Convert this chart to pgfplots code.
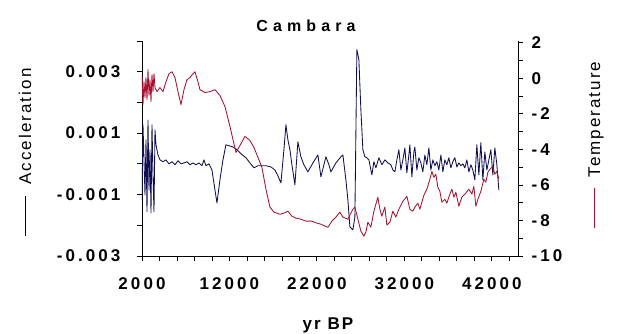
\documentclass[border=0pt]{standalone}
\usepackage{fontspec}
\setmainfont{Liberation Sans}
\newfontfamily\tickfont[LetterSpace=18]{Liberation Sans}
\newfontfamily\labelfont[LetterSpace=12]{Liberation Sans}
\newfontfamily\titlefont[LetterSpace=32]{Liberation Sans}
\usepackage{pgfplots}
\pgfplotsset{compat=1.18}
\definecolor{accblue}{rgb}{0.06,0.06,0.32}
\definecolor{tempred}{rgb}{0.66,0.07,0.18}

\pgfplotsset{
  commonaxis/.style={
    scale only axis, width=376pt, height=215pt,
    xmin=2000, xmax=45000,
    tick align=outside, major tick length=5pt, minor tick length=5pt,
    every tick/.style={black, line width=0.8pt},
    axis line style={line width=0.9pt, -},
    /pgf/number format/assume math mode=true,
    /pgf/number format/1000 sep={},
    scaled x ticks=false, scaled y ticks=false,
    ticklabel style={font=\tickfont\bfseries\fontsize{17}{17}\selectfont},
  }
}

\begin{document}
\begin{tikzpicture}[x=1pt,y=1pt]
% page frame; the axis box has its lower left corner at the origin
\useasboundingbox (-142,-78) rectangle (477,256);

\begin{axis}[commonaxis,
  ymin=-0.003, ymax=0.004,
  axis x line*=bottom, axis y line*=left,
  xtick={2000,12000,...,42000}, minor xtick={4000,6000,...,44000},
  ytick={-0.003,-0.001,0.001,0.003}, minor ytick={-0.002,0,0.002,0.004},
  xticklabel style={yshift=-13pt},
  yticklabel style={xshift=-13pt, /pgf/number format/fixed, /pgf/number format/precision=3,
    /pgf/number format/fixed zerofill},
]
\addplot[accblue, line width=0.85pt, line join=round] coordinates {
(2000,-1.17e-3) (2114,1.27e-3) (2343,-1.01e-3) (2457,0.78e-3) (2572,-1.56e-3)
(2686,1.43e-3) (2800,-0.85e-3) (2914,0.46e-3) (3029,-1.60e-3) (3143,1.27e-3)
(3257,-0.36e-3) (3372,-1.56e-3) (3486,1.11e-3) (3600,0.62e-3) (3829,0.29e-3)
(4057,0.13e-3) (4400,0.07e-3) (4743,0.13e-3) (5086,0.00e-3) (5429,0.07e-3)
(5772,-0.03e-3) (6115,0.10e-3) (6458,0.00e-3) (6801,0.03e-3) (7144,0.07e-3)
(7486,-0.03e-3) (7829,0.03e-3) (8172,-0.03e-3) (8515,0.03e-3) (8858,-0.06e-3)
(9087,0.13e-3) (9315,-0.06e-3) (9658,0.00e-3) (10001,-0.20e-3) (10344,-0.85e-3)
(10573,-1.27e-3) (10915,-0.52e-3) (11258,0.13e-3) (11601,0.62e-3) (11944,0.59e-3)
(12401,0.55e-3) (12859,0.46e-3) (13316,0.33e-3) (13888,0.20e-3) (14344,0.03e-3)
(14802,-0.13e-3) (15259,-0.06e-3) (15716,-0.06e-3) (16173,-0.06e-3) (16745,-0.10e-3)
(17202,-0.20e-3) (17545,-0.39e-3) (17888,-0.62e-3) (18231,0.46e-3) (18460,1.27e-3)
(18688,0.78e-3) (18917,0.46e-3) (19145,-0.03e-3) (19488,-0.68e-3) (19831,0.72e-3)
(20174,0.23e-3) (20517,-0.03e-3) (20974,-0.26e-3) (21545,0.03e-3) (22117,0.29e-3)
(22460,-0.42e-3) (22803,-0.03e-3) (23032,0.23e-3) (23375,-0.03e-3) (23603,-0.26e-3)
(24175,0.03e-3) (24746,0.23e-3) (24975,0.29e-3) (25318,-0.52e-3) (25546,-1.17e-3)
(25775,-2.05e-3) (26118,-2.15e-3) (26347,-1.73e-3) (26575,3.72e-3) (26804,3.39e-3)
(27032,1.76e-3) (27261,0.46e-3) (27490,0.23e-3) (27718,0.20e-3) (27947,0.13e-3)
(28290,-0.36e-3) (28519,0.07e-3) (28748,-0.13e-3) (29091,0.20e-3) (29434,-0.03e-3)
(29777,0.13e-3) (30120,0.03e-3) (30463,-0.03e-3) (30691,-0.20e-3) (30920,-0.26e-3)
(31149,0.13e-3) (31377,0.46e-3) (31606,-0.20e-3) (31835,0.13e-3) (32063,0.52e-3)
(32292,-0.29e-3) (32520,0.29e-3) (32635,0.62e-3) (32863,-0.42e-3) (33092,0.39e-3)
(33206,0.55e-3) (33435,-0.20e-3) (33664,0.20e-3) (33892,0.03e-3) (34121,-0.26e-3)
(34350,0.29e-3) (34579,-0.03e-3) (34807,0.52e-3) (35036,-0.20e-3) (35264,0.13e-3)
(35493,-0.06e-3) (35722,0.07e-3) (35950,-0.20e-3) (36179,0.29e-3) (36408,-0.26e-3)
(36637,0.13e-3) (36866,-0.03e-3) (37094,0.20e-3) (37323,-0.13e-3) (37552,0.07e-3)
(37780,0.20e-3) (38009,-0.10e-3) (38238,0.03e-3) (38466,-0.06e-3) (38695,0.00e-3)
(38924,-0.13e-3) (39153,0.13e-3) (39381,-0.26e-3) (39610,-0.03e-3) (39839,-0.20e-3)
(40067,-0.52e-3) (40296,0.62e-3) (40525,-0.36e-3) (40753,0.69e-3) (40982,-0.52e-3)
(41211,0.39e-3) (41440,-0.20e-3) (41668,0.13e-3) (41897,0.46e-3) (42126,-0.36e-3)
(42355,0.52e-3) (42583,-0.03e-3) (42812,-0.85e-3)
};
\end{axis}

\begin{axis}[commonaxis,
  ymin=-10, ymax=2.1,
  axis x line=none, axis y line*=right,
  ytick={-10,-8,...,2}, minor ytick={-9,-7,...,1},
  yticklabel style={xshift=5pt},
]
\addplot[tempred, line width=0.85pt, line join=round] coordinates {
(2000,0.21) (2114,-1.48) (2229,-0.19) (2343,-1.08) (2457,0.04) (2572,-1.20)
(2686,0.49) (2800,-0.97) (2914,-0.08) (3029,-1.31) (3143,0.21) (3257,-0.75)
(3372,0.26) (3486,-0.52) (3715,-0.75) (4057,-0.52) (4400,-0.75) (4743,-0.19)
(5086,0.26) (5429,0.37) (5772,0.04) (6115,-0.75) (6458,-1.48) (6801,-0.64)
(7144,-0.08) (7486,0.04) (7829,0.26) (8058,0.37) (8401,-0.19) (8629,-0.64)
(9201,-0.80) (9772,-0.75) (10344,-0.64) (10915,-0.97) (11487,-1.59) (12058,-2.71)
(12744,-4.17) (13201,-3.78) (13773,-3.27) (14344,-3.50) (14802,-3.89) (15259,-4.45)
(15716,-5.01) (16173,-6.24) (16630,-7.25) (17088,-7.53) (17773,-7.65) (18231,-7.59)
(18688,-7.48) (19145,-7.76) (19602,-7.87) (20174,-7.93) (20745,-8.04) (21431,-8.04)
(22003,-8.15) (22460,-8.21) (22917,-8.32) (23260,-8.38) (23717,-8.04) (24175,-7.81)
(24632,-7.53) (24975,-7.81) (25546,-7.93) (26118,-7.37) (26347,-7.25) (26689,-7.93)
(27032,-8.60) (27375,-8.88) (27604,-8.66) (27833,-8.10) (28176,-8.38) (28519,-7.48)
(28976,-6.69) (29205,-7.37) (29434,-7.76) (29777,-7.25) (30005,-8.26) (30348,-8.10)
(30691,-7.48) (31034,-7.81) (31377,-7.37) (31835,-6.92) (32292,-6.64) (32635,-7.37)
(32978,-7.48) (33206,-7.25) (33549,-7.03) (33778,-7.37) (34235,-6.58) (34579,-6.24)
(34921,-5.68) (35150,-5.24) (35379,-5.57) (35607,-5.40) (35836,-6.13) (36065,-6.36)
(36294,-6.97) (36637,-6.81) (36866,-7.03) (37208,-6.52) (37437,-6.24) (37666,-6.69)
(37895,-6.41) (38238,-7.20) (38581,-6.69) (38924,-6.52) (39381,-6.24) (39724,-6.52)
(39953,-6.08) (40182,-7.20) (40410,-6.81) (40753,-6.36) (41097,-5.68) (41325,-5.85)
(41554,-5.29) (41783,-5.12) (42126,-4.95) (42355,-5.40) (42583,-5.24) (42812,-5.68)
};
\end{axis}

% title and axis names (coordinates relative to the lower left corner of the axis box)
\node[anchor=base, font=\titlefont\bfseries\fontsize{16}{16}\selectfont] at (164,224) {Cambara};
\node[anchor=base, font=\labelfont\bfseries\fontsize{17}{17}\selectfont] at (186,-74) {yr BP};
\node[rotate=90, font=\labelfont\fontsize{17}{17}\selectfont] at (-117,103.5)
  {\rule[0.33em]{40pt}{0.9pt}\hspace{12pt}Acceleration};
\node[rotate=90, font=\labelfont\fontsize{17}{17}\selectfont] at (454,111)
  {\textcolor{tempred}{\rule[0.33em]{40pt}{0.9pt}}\hspace{11pt}Temperature};
\end{tikzpicture}
\end{document}
